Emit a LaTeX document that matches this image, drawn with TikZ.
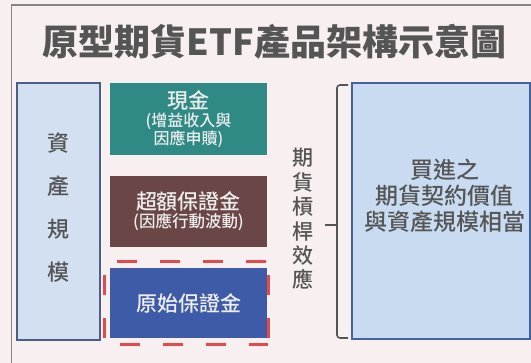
\documentclass[tikz,border=0pt]{standalone}
\usepackage{fontspec}
\setmainfont{Noto Sans CJK TC}
\newfontfamily\cjk{Noto Sans CJK TC Medium}
\newfontfamily\cjkb{Noto Sans CJK TC}
\definecolor{bgc}{HTML}{F8EFF1}
\definecolor{framec}{HTML}{858585}
\definecolor{titlec}{HTML}{555555}
\definecolor{leftf}{HTML}{D3E0F1}
\definecolor{leftb}{HTML}{4D5E85}
\definecolor{tealc}{HTML}{2F8A86}
\definecolor{brownc}{HTML}{6A4646}
\definecolor{bluec}{HTML}{3D5BA7}
\definecolor{redc}{HTML}{E24A4C}
\definecolor{rightf}{HTML}{C8DBF0}
\definecolor{rightb}{HTML}{45639A}
\definecolor{txtc}{HTML}{555555}
\definecolor{bracec}{HTML}{555555}
\begin{document}
\begin{tikzpicture}[x=1pt,y=-1pt,
  colbox/.style={draw=none, minimum width=157pt, inner sep=0pt, align=center, text=white!93!black, font=\cjk},
  reddash/.style={draw=redc, line width=3pt, dash pattern=on 20pt off 23pt},
]
\fill[bgc] (0,0) rectangle (531,363);
\useasboundingbox (0,0) rectangle (531,363);
\draw[framec, line width=1.5pt] (540,5) -- (11.5,5) -- (11.5,370);
% title
\node[text=titlec, font=\cjkb\bfseries\fontsize{36}{40}\selectfont, inner sep=0pt] (title) at (274.5,42) {原型期貨ETF產品架構示意圖};
% left box
\node[draw=leftb, fill=leftf, line width=1.8pt, minimum width=83pt, minimum height=257pt, inner sep=0pt] (asset) at (58.5,211.5) {};
\node[text=txtc, align=center, inner sep=0pt, font=\cjk\fontsize{22}{43}\selectfont] (assettxt) at (58.5,208) {資\\產\\規\\模};
% colored boxes
\node[colbox, fill=tealc, minimum height=72pt] (cash) at (188.5,119) {\fontsize{21}{22}\selectfont 現金\\[1pt]\fontsize{16}{19}\selectfont (增益收入與\\\fontsize{16}{19}\selectfont 因應申贖)};
\node[colbox, fill=brownc, minimum height=71pt] (excess) at (188.5,211.5) {\fontsize{21}{22}\selectfont 超額保證金\\[1pt]\fontsize{16.5}{19}\selectfont (因應行動波動)};
\node[colbox, fill=bluec, minimum height=70pt] (initial) at (188.5,303) {\fontsize{21}{22}\selectfont 原始保證金};
% red dashed frame
\node[minimum width=163pt, minimum height=82pt, inner sep=0pt] (dashbox) at (186.5,303) {};
\draw[reddash, dash phase=31pt] (dashbox.north west) -- (dashbox.north east);
\draw[reddash, dash phase=30pt] (dashbox.north west) -- (dashbox.south west);
\draw[reddash, dash phase=30pt] (dashbox.north east) -- (dashbox.south east);
\draw[reddash, dash phase=28pt] (dashbox.south west) -- (dashbox.south east);
% leverage text
\node[text=txtc, align=center, inner sep=0pt, font=\cjk\fontsize{21}{24.4}\selectfont] (lever) at (303,219) {期\\貨\\槓\\桿\\效\\應};
% brace
\coordinate (btop) at (348,85);
\coordinate (bbot) at (348,338);
\coordinate (bmid) at (337,225);
\coordinate (btip) at (325,225);
\draw[bracec, line width=1.6pt, rounded corners=3pt] (btop) -- (337,85) -- (337,338) -- (bbot);
\draw[bracec, line width=1.6pt] (bmid) -- (btip);
% right box
\node[draw=rightb, fill=rightf, line width=1.8pt, minimum width=178pt, minimum height=256pt, inner sep=0pt] (futures) at (441,211) {};
\node[text=txtc, align=center, inner sep=0pt, font=\cjk\fontsize{23}{26}\selectfont] (futtxt) at (444.5,196) {買進之\\期貨契約價值\\與資產規模相當};
\end{tikzpicture}
\end{document}
